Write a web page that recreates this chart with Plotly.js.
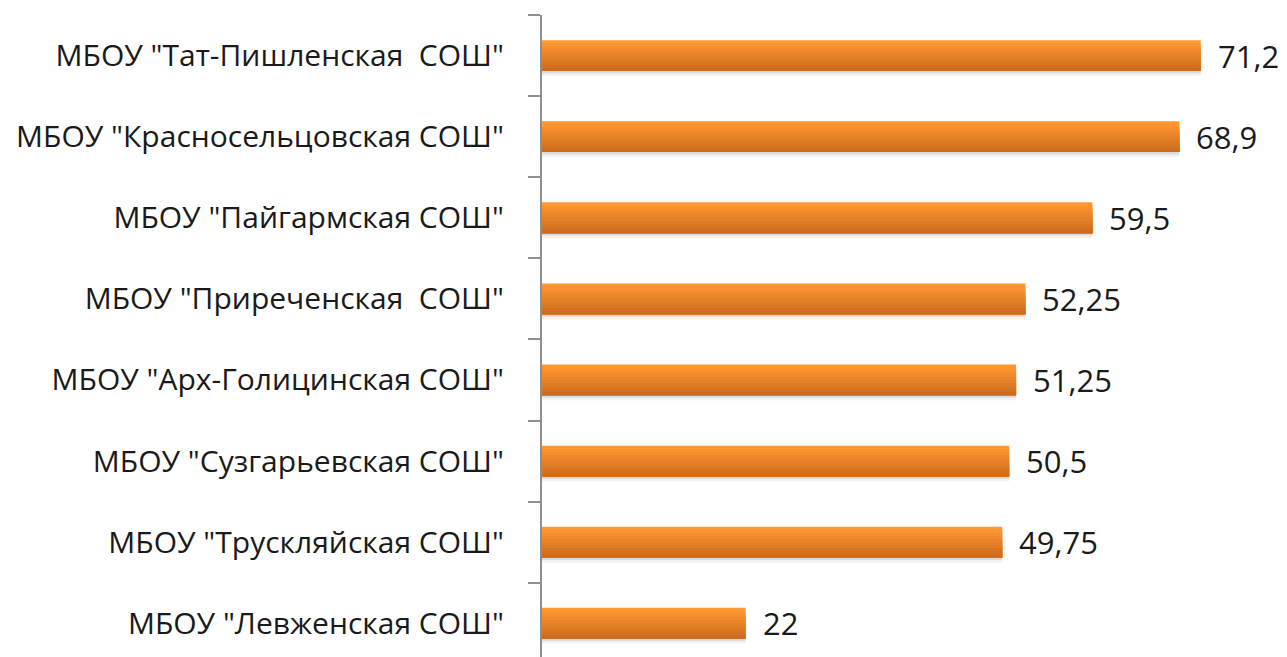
<!DOCTYPE html>
<html>
<head>
<meta charset="utf-8">
<script src="https://cdn.plot.ly/plotly-3.0.1.min.js"></script>
<style>html,body{margin:0;padding:0;background:#fff;}#chart{width:1287px;height:657px;}</style>
</head>
<body>
<div id="chart"></div>
<script>
const schools = [
  'МБОУ "Тат-Пишленская  СОШ"',
  'МБОУ "Красносельцовская СОШ"',
  'МБОУ "Пайгармская СОШ"',
  'МБОУ "Приреченская  СОШ"',
  'МБОУ "Арх-Голицинская СОШ"',
  'МБОУ "Сузгарьевская СОШ"',
  'МБОУ "Трускляйская СОШ"',
  'МБОУ "Левженская СОШ"'
];
const scores = [71.2, 68.9, 59.5, 52.25, 51.25, 50.5, 49.75, 22];
const scoreLabels = ['71,2', '68,9', '59,5', '52,25', '51,25', '50,5', '49,75', '22'];

const BAR_W = 0.38;
const N = 10;
const colTop = [255, 152, 50], colBot = [206, 108, 30];
const traces = [];
// soft shadow below bars
[['rgba(0,0,0,0.05)', 0.06], ['rgba(0,0,0,0.09)', 0.03]].forEach(([c, h]) => {
  traces.push({type: 'bar', orientation: 'h', x: scores, y: schools,
    width: h, offset: BAR_W / 2, marker: {color: c, line: {width: 0}},
    hoverinfo: 'skip', showlegend: false});
});
// gradient: each layer runs from its start to the bar bottom, darker layers drawn later
for (let i = 0; i < N; i++) {
  const t = i / (N - 1);
  const col = colTop.map((v, k) => Math.round(v + (colBot[k] - v) * t));
  const start = -BAR_W / 2 + i * BAR_W / N;
  traces.push({type: 'bar', orientation: 'h', x: scores, y: schools,
    width: BAR_W / 2 - start, offset: start,
    marker: {color: 'rgb(' + col.join(',') + ')', line: {width: 0}},
    hoverinfo: 'skip', showlegend: false});
}

const annotations = schools.map((s, i) => ({
  x: scores[i], y: s, xref: 'x', yref: 'y', text: scoreLabels[i],
  showarrow: false, xanchor: 'left', yanchor: 'middle', xshift: 15,
  font: {family: 'Open Sans, sans-serif', size: 31, color: '#1a1a1a'}
}));

const layout = {
  width: 1287, height: 657,
  margin: {l: 542, r: 5, t: 15, b: 0, pad: 0},
  paper_bgcolor: '#fff', plot_bgcolor: '#fff',
  barmode: 'overlay',
  xaxis: {range: [0, 80], visible: false, showgrid: false, zeroline: false, fixedrange: true},
  yaxis: {
    type: 'category', categoryorder: 'array', categoryarray: schools,
    range: [7.416, -0.5], showgrid: false, zeroline: false,
    showline: true, linecolor: '#8f8f8f', linewidth: 2,
    ticks: 'outside', ticklen: 12, tickwidth: 2, tickcolor: '#8f8f8f',
    tickson: 'boundaries', ticklabelstandoff: 30,
    tickfont: {family: 'Open Sans, sans-serif', size: 30, color: '#1a1a1a'}
  },
  annotations: annotations,
  showlegend: false
};
Plotly.newPlot('chart', traces, layout, {displayModeBar: false, staticPlot: true});
</script>
</body>
</html>
